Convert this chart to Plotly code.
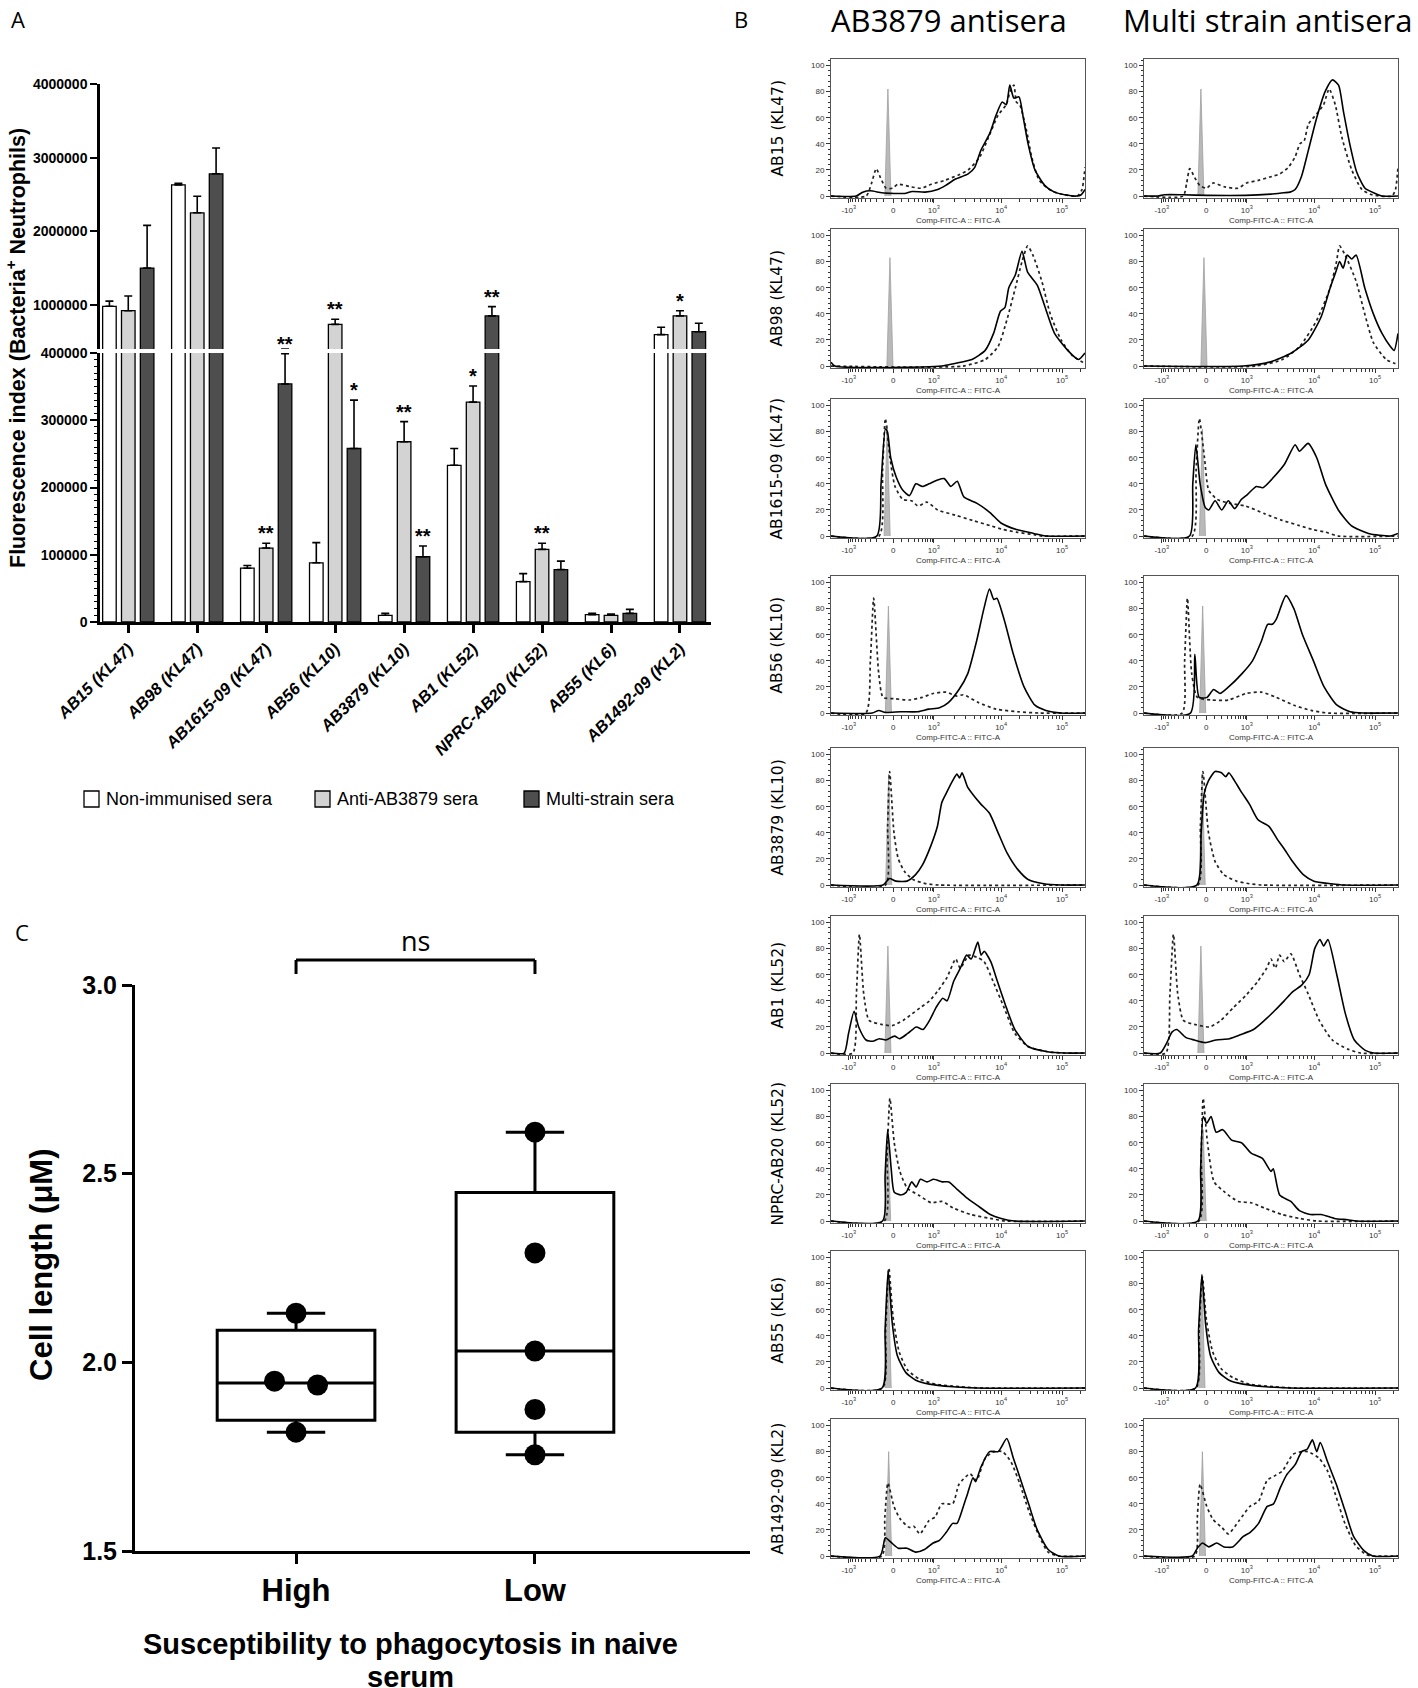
import numpy as np
import plotly.graph_objects as go

W, H = 1418, 1688
def fx(p): return p / W
def fy(p): return 1 - p / H

# ---------------- Panel A data ----------------
strains = ["AB15 (KL47)", "AB98 (KL47)", "AB1615-09 (KL47)", "AB56 (KL10)", "AB3879 (KL10)",
           "AB1 (KL52)", "NPRC-AB20 (KL52)", "AB55 (KL6)", "AB1492-09 (KL2)"]
series_names = ["Non-immunised sera", "Anti-AB3879 sera", "Multi-strain sera"]
non_immunised = [980000, 2630000, 80000, 88000, 10000, 233000, 60000, 11000, 595000]
non_immunised_err = [70000, 20000, 4000, 30000, 3000, 25000, 12000, 1800, 100000]
anti_ab3879 = [920000, 2250000, 110000, 735000, 268000, 327000, 108000, 10000, 850000]
anti_ab3879_err = [200000, 225000, 7000, 70000, 30000, 24000, 9000, 1700, 70000]
multi_strain = [1500000, 2780000, 354000, 258000, 97000, 850000, 78000, 12800, 635000]
multi_strain_err = [580000, 350000, 45000, 72000, 16000, 125000, 12500, 6000, 115000]
sig_non = ["", "", "", "", "", "", "", "", ""]
sig_anti = ["", "", "**", "**", "**", "*", "**", "", "*"]
sig_multi = ["", "", "**", "*", "**", "**", "", "", ""]
lower_ticks = [0, 100000, 200000, 300000, 400000]
upper_ticks = [1000000, 2000000, 3000000, 4000000]
BREAK = 400000

# ---------------- Panel C data ----------------
groups_c = ["High", "Low"]
high_vals = [2.13, 1.95, 1.94, 1.815]
low_vals = [2.61, 2.29, 2.03, 1.875, 1.755]
c_ticks = [1.5, 2.0, 2.5, 3.0]

# ---------------- Panel B data (x: display channel 0-100, y: % of max) ----------------
hist_tick_pos = [7, 24.5, 40.5, 67, 91]
hist_tick_text = ["-10<sup>3</sup>", "0", "10<sup>3</sup>", "10<sup>4</sup>", "10<sup>5</sup>"]
col_titles = ["AB3879 antisera", "Multi strain antisera"]

AB15_AB3879_solid = [(0,0),(9.9,0),(12.5,3),(15.5,4),(20,2.5),(25,2),(29,2),(32,3.5),(37,3),(42,5),(45,8),(49,13),(54,17),(56.6,22),(59,35),(62.5,48),(65,62),(67.4,72),(69,70),(70.4,85),(72,75),(74,76),(75.7,60),(77.6,40),(80.3,20),(84.2,8),(88,3),(92,1),(96.7,0),(98.5,1),(100,5)]
AB15_AB3879_dotted = [(0,0),(13.8,0),(16,10),(17.8,21),(19.5,14),(21.7,6),(24.3,6),(26.3,9),(31.6,7),(35.5,6),(39.5,9),(44.7,12),(50,16),(54,20),(58.6,30),(62,45),(65.8,62),(69,70),(70.5,80),(72,85),(73,72),(74.3,70),(77,50),(79,30),(82,12),(86.8,4),(92,1),(97,0),(98.8,5),(100,22)]
AB15_multi_solid = [(0,0),(5.5,0),(8,1),(15,1),(25,0.5),(40,0.5),(50,1.5),(55,2.5),(57.5,3),(59.5,5),(62,15),(64.7,35),(68,60),(71.3,80),(74.2,89),(76.6,85),(78.5,65),(81,40),(83.8,18),(87,6),(91,2),(93.7,0),(100,0)]
AB15_multi_dotted = [(0,0),(15.4,0),(16.8,10),(18,21),(20,14),(22,8),(24.6,6),(27.2,10),(31.8,7),(37,6),(40.4,10),(45,12),(50.3,15),(53.5,17),(56.8,22),(59.5,30),(61.4,40),(63,42),(64.7,55),(68,63),(70.7,70),(72.9,82),(75.3,70),(77.9,45),(81.8,20),(85.8,5),(89.7,1),(97.6,0),(99,5),(100,22)]
AB98_AB3879_solid = [(0,3),(1.5,0),(43.6,0),(48.7,2),(55.5,5),(60.7,12),(64,25),(66.7,42),(68.5,45),(70,60),(72.6,70),(75.2,88),(77.4,72),(81.2,62),(84.3,45),(88,25),(93.2,12),(97.4,5),(100,10)]
AB98_AB3879_dotted = [(0,0),(52,0),(60.7,5),(65.8,15),(69.2,35),(72.6,60),(75.2,80),(77.4,92),(79.5,85),(83,65),(86.3,40),(90.6,20),(95,8),(100,2)]
AB98_multi_solid = [(0,0),(39,0),(49.4,3),(58,10),(64.7,20),(69.8,38),(73.3,60),(75.5,72),(77,80),(78.4,75),(80,85),(81.8,82),(83.5,85),(86.9,60),(90.3,40),(93.7,25),(97,15),(98.5,12),(100,25)]
AB98_multi_dotted = [(0,0),(44,0),(54.5,5),(61.3,15),(68,35),(73.3,60),(75.8,80),(77,92),(79.2,85),(83.5,65),(86.9,40),(90.3,18),(95.4,5),(98.8,2),(100,2)]
AB1615_AB3879_solid = [(0,0),(18,0),(19.7,40),(21.4,82),(22.2,80),(23.5,60),(25.7,45),(28.3,35),(30.9,31),(33.4,40),(36,38),(38.6,40),(42,43),(44.6,44),(47.2,38),(49.7,42),(52.3,30),(57.5,25),(62.6,18),(66.9,10),(73,5),(79.8,2),(85,0),(100,0)]
AB1615_AB3879_dotted = [(0,0),(18.9,0),(20.3,50),(21.4,90),(23.2,60),(25.2,38),(28.3,28),(31.7,27),(34.3,23),(37.7,26),(42,20),(48.9,16),(55.7,12),(62.6,8),(67.8,5),(73,3),(80,1),(83,0),(100,0)]
AB1615_multi_solid = [(0,0),(17.9,0),(19.2,40),(20.4,70),(22.1,40),(24.1,22),(25.5,20),(28,27),(30.6,20),(33.2,27),(35.7,21),(38.3,28),(40.8,32),(44.2,38),(46.8,37),(51,45),(55.3,55),(59.5,70),(61.2,65),(64.6,71),(68,60),(71.4,40),(76.5,20),(81.6,8),(88.4,2),(97,0),(100,2)]
AB1615_multi_dotted = [(0,0),(19,0),(20.5,50),(21.8,90),(23.8,60),(25.5,35),(28.9,28),(34,25),(40,23),(47.6,17),(54.4,12),(61.2,8),(66.3,5),(71.4,3),(76.5,0),(100,0)]
AB56_AB3879_solid = [(0,0),(16.2,0),(18.8,2),(21.4,0.5),(27.4,1),(34.2,1),(38.5,3),(42.7,4),(46.2,8),(50.4,18),(53.8,30),(57.3,55),(60.2,80),(62.4,95),(64.1,87),(65.3,88),(68.4,70),(71.8,45),(76,20),(80.3,6),(84.6,2),(90.6,0),(100,0)]
AB56_AB3879_dotted = [(0,0),(13.7,0),(15.5,40),(16.8,88),(18.8,30),(20.5,12),(24.8,11),(30.8,10),(35.9,12),(40.2,15),(45.3,16),(49.6,13),(52.1,14),(58.1,8),(65,3),(73.5,1),(82,0),(100,0)]
AB56_multi_solid = [(0,0),(18.3,0),(20,45),(21.7,12),(24.8,12),(27.4,18),(29.9,15),(33.3,20),(38.5,30),(42.7,40),(46.2,55),(48.7,68),(50.5,68),(52.1,72),(55.9,90),(59,80),(62.4,60),(66.7,40),(70.9,20),(76,6),(81.2,1),(86.3,0),(100,0)]
AB56_multi_dotted = [(0,0),(15,0),(16,40),(17.1,88),(18.8,30),(21,12),(26.5,10),(33.3,10),(40.2,15),(46.2,16),(52.1,12),(59,6),(65.8,2),(72.6,0),(100,0)]
AB3879_AB3879_solid = [(0,0),(20.5,0),(23,5),(25.6,3),(29.9,3),(33.3,8),(35.9,15),(39.3,30),(41.9,45),(43.6,63),(45.3,70),(47.9,80),(49.6,85),(50.6,82),(51.6,86),(53.8,75),(56.4,68),(59,62),(62.4,55),(65.8,40),(69.2,25),(73.5,12),(77.8,4),(83.8,1),(90.6,0),(100,0)]
AB3879_AB3879_dotted = [(0,0),(21.4,0),(22.3,45),(23.1,87),(24.8,40),(26.5,20),(29.1,10),(32.5,4),(37.6,1),(42.7,0),(100,0)]
AB3879_multi_solid = [(0,0),(20.8,0),(22.5,40),(23.7,70),(25.4,80),(28,87),(30.5,86),(32.2,83),(33.4,86),(35.6,80),(38.1,72),(41.5,62),(44.9,50),(49.2,45),(52.5,35),(55.1,28),(58.5,18),(62.7,8),(66.9,3),(73.7,1),(78.8,0),(100,0)]
AB3879_multi_dotted = [(0,0),(21.2,0),(22.2,45),(23.2,87),(25.4,40),(28,18),(31.4,8),(36.4,3),(41.5,1),(46.6,0),(100,0)]
AB1_AB3879_solid = [(0,0),(5.2,0),(6.9,15),(9.1,32),(10.9,20),(13.8,10),(16.4,9),(19,11),(21.6,10),(25,13),(27,11),(30.2,15),(33.6,20),(36.2,18),(38.8,25),(41.4,35),(44,42),(45.7,40),(48.3,55),(50.9,65),(53.4,75),(55.2,72),(57.8,85),(59.1,75),(60.3,78),(62.9,70),(65.5,55),(69,35),(72.4,18),(77.6,5),(85.3,1),(92,0),(100,0)]
AB1_AB3879_dotted = [(0,0),(8.6,0),(10,45),(11.2,91),(12.9,45),(15,25),(19.8,22),(24.1,21),(28.4,25),(31.9,30),(35.3,35),(38.8,40),(42.2,48),(45.7,58),(49.1,72),(50.9,65),(54.3,75),(57.8,73),(60.3,70),(63.8,55),(68.1,35),(72.4,15),(77.6,5),(85.3,1),(92,0),(100,0)]
AB1_multi_solid = [(0,0),(6.4,0),(9,8),(11,16),(12.9,18),(16.4,12),(19.8,10),(24.1,8),(28.4,10),(33.6,11),(37.9,14),(43.1,18),(47.4,25),(51.7,33),(55.2,40),(58.6,47),(62.1,52),(65,60),(67.2,80),(69.3,87),(70.7,82),(72.4,87),(75.9,60),(79.3,30),(82.8,10),(87.1,2),(90.5,0),(100,0)]
AB1_multi_dotted = [(0,0),(8.6,0),(10.2,45),(11.6,91),(13.3,45),(15.5,25),(19.8,22),(25.9,20),(30.2,25),(35.3,35),(40.5,45),(44.8,55),(48.3,65),(50,72),(51.7,65),(53.4,75),(55.2,70),(57.8,76),(61.2,60),(64.7,45),(69,25),(74.1,10),(80.2,3),(85.3,0),(100,0)]
NPRC_AB3879_solid = [(0,0),(20.3,0),(21.3,35),(22.3,70),(23.7,40),(24.9,22),(27.5,20),(29.6,22),(31.8,30),(33.5,26),(35.2,32),(37.8,30),(40.4,32),(43.8,30),(46.4,30),(49.8,24),(53.3,18),(57.6,12),(62.7,5),(67,2),(72.2,0),(100,0)]
NPRC_AB3879_dotted = [(0,0),(21,0),(22.1,50),(23.2,94),(24.9,60),(27.1,38),(30.1,25),(34.4,20),(39.5,14),(43.8,15),(48.1,10),(55,5),(62.7,2),(68.7,0),(100,0)]
NPRC_multi_solid = [(0,0),(21.2,0),(22.3,40),(23.3,80),(24.7,75),(26.4,80),(28.4,68),(31,70),(34.5,62),(38.4,60),(42.2,52),(46.6,48),(50,38),(50.9,40),(53.4,20),(57.8,15),(61.2,8),(65.5,5),(69.8,5),(75,2),(80.2,1),(83.6,0),(100,0)]
NPRC_multi_dotted = [(0,0),(21.6,0),(22.5,50),(23.3,94),(25,60),(27.6,30),(31.9,22),(37.1,15),(42.2,14),(47.4,10),(54.3,5),(61.2,2),(68.1,0),(100,0)]
AB55_AB3879_solid = [(0,0),(20.1,0),(21.3,45),(22.5,90),(24.1,50),(26.1,25),(29.4,12),(33.4,6),(38.7,3),(48,1),(57.2,0),(100,0)]
AB55_AB3879_dotted = [(0,0),(20.3,0),(21.5,45),(22.8,92),(24.4,55),(26.8,28),(30.1,14),(34.7,7),(41.3,3),(50.6,1),(59.9,0),(100,0)]
AB55_multi_solid = [(0,0),(20.3,0),(21.5,45),(22.8,87),(24.3,48),(26.3,24),(29.5,12),(33.5,6),(39,3),(48,1),(57,0),(100,0)]
AB55_multi_dotted = [(0,0),(20.5,0),(21.7,45),(23,85),(24.6,52),(27,28),(30.3,15),(35,8),(41.5,3),(51,1),(60,0),(100,0)]
AB1492_AB3879_solid = [(0,0),(19.3,0),(21.4,14),(23.9,10),(26.5,6),(29.9,6),(33.3,3),(36.8,5),(40.2,10),(42.7,12),(45.3,18),(47.9,25),(49.6,25),(52.1,38),(53.8,48),(55.9,60),(56.9,57),(59,68),(62.4,80),(65.8,80),(69.2,90),(71.8,75),(74.4,60),(77.8,40),(81.2,20),(85.5,5),(89.7,0),(100,0)]
AB1492_AB3879_dotted = [(0,0),(20,0),(21.2,30),(22.4,56),(24.8,38),(27.4,28),(30.8,22),(32.5,23),(35,17),(38.5,27),(41,30),(43.6,40),(47.9,40),(50.4,55),(54.7,63),(57.3,58),(60.7,75),(64.1,80),(67.5,80),(70.9,72),(74.4,55),(77.8,35),(82,15),(85.5,3),(89.7,0),(100,0)]
AB1492_multi_solid = [(0,0),(19,0),(21,6),(23,10),(25.5,7),(28.6,10),(31.5,7),(34.9,7),(39.1,15),(41.7,18),(45.1,25),(48.5,38),(51,40),(53.6,52),(56.1,62),(59.5,70),(62.1,80),(64.3,82),(66.3,89),(68,80),(69.4,87),(72.3,72),(75.7,55),(79.1,35),(82.5,15),(86.7,4),(90.1,0),(100,0)]
AB1492_multi_dotted = [(0,0),(20,0),(21,30),(22.1,55),(24.7,38),(27.2,28),(30.6,22),(33.2,17),(37.4,27),(41.7,38),(45.1,42),(48.5,58),(51.9,62),(54.4,65),(58.7,78),(62.1,80),(64.6,80),(68.9,75),(72.3,65),(75.7,45),(79.1,25),(83.3,8),(87.6,1),(90.1,0),(100,0)]

# unstained control spike: position and height per panel (row-major, left/right)
control_pos = [22.4, 22.4, 23.2, 23.6, 22.1, 23.0, 22.6, 23.1, 22.7, 22.9, 22.4, 22.4, 22.3, 23.3, 22.5, 22.8, 22.7, 23.0]
control_height = [82, 82, 83, 83, 85, 82, 82, 82, 85, 85, 82, 82, 70, 70, 88, 86, 80, 80]

hist_panels = [
    (AB15_AB3879_solid, AB15_AB3879_dotted, AB15_multi_solid, AB15_multi_dotted),
    (AB98_AB3879_solid, AB98_AB3879_dotted, AB98_multi_solid, AB98_multi_dotted),
    (AB1615_AB3879_solid, AB1615_AB3879_dotted, AB1615_multi_solid, AB1615_multi_dotted),
    (AB56_AB3879_solid, AB56_AB3879_dotted, AB56_multi_solid, AB56_multi_dotted),
    (AB3879_AB3879_solid, AB3879_AB3879_dotted, AB3879_multi_solid, AB3879_multi_dotted),
    (AB1_AB3879_solid, AB1_AB3879_dotted, AB1_multi_solid, AB1_multi_dotted),
    (NPRC_AB3879_solid, NPRC_AB3879_dotted, NPRC_multi_solid, NPRC_multi_dotted),
    (AB55_AB3879_solid, AB55_AB3879_dotted, AB55_multi_solid, AB55_multi_dotted),
    (AB1492_AB3879_solid, AB1492_AB3879_dotted, AB1492_multi_solid, AB1492_multi_dotted),
]

# ====================================================================
fig = go.Figure()
layout = {}
annotations = []
shapes = []

def note(x, y, text, size, family="Liberation Sans", weight="normal", angle=0, xanchor="center",
         yanchor="middle", xref="paper", yref="paper", color="black"):
    annotations.append(dict(x=x, y=y, xref=xref, yref=yref, showarrow=False, text=text,
                            textangle=angle, xanchor=xanchor, yanchor=yanchor,
                            font=dict(family=family, size=size, color=color, weight=weight)))

BOLD = "Liberation Sans"
# ---------------- Panel A ----------------
bar_colors = ["#ffffff", "#d3d3d3", "#4e4e4e"]
vals = [non_immunised, anti_ab3879, multi_strain]
errs = [non_immunised_err, anti_ab3879_err, multi_strain_err]
sigs = [sig_non, sig_anti, sig_multi]
xs = list(range(len(strains)))
for yax in ["y", "y2"]:
    for i in range(3):
        fig.add_trace(go.Bar(
            x=xs, y=vals[i], xaxis="x", yaxis=yax, name=series_names[i], showlegend=False,
            marker=dict(color=bar_colors[i], line=dict(color="black", width=1.3)),
            error_y=dict(type="data", symmetric=False, array=errs[i], arrayminus=[0] * len(xs),
                         color="black", thickness=1.6, width=4)))

BARGAP = 0.18
slot = (1 - BARGAP) / 3
for i in range(3):
    for k in xs:
        if sigs[i][k]:
            top = vals[i][k] + errs[i][k]
            annotations.append(dict(x=k + (i - 1) * slot, y=top, xref="x",
                                    yref="y2" if top > BREAK else "y", xanchor="center",
                                    text=sigs[i][k], showarrow=False, yanchor="bottom", yshift=-3,
                                    font=dict(family=BOLD, size=20, color="black", weight="bold")))

axA_common = dict(showline=True, linecolor="black", linewidth=2.5, ticks="outside", ticklen=7,
                  tickwidth=2, tickcolor="black", showgrid=False, zeroline=False, automargin=False,
                  tickfont=dict(family=BOLD, size=14, color="black", weight="bold"))
layout["xaxis"] = dict(domain=[fx(100), fx(711)], range=[-0.41, 8.45], anchor="y", automargin=False,
                       tickvals=xs, ticktext=strains, tickangle=-45,
                       showline=True, linecolor="black", linewidth=2.5, ticks="outside", ticklen=8,
                       tickwidth=2.5, tickcolor="black", showgrid=False, zeroline=False,
                       tickfont=dict(family=BOLD, size=16.5, color="black", weight="bold", style="italic"))
layout["yaxis"] = dict(domain=[fy(622), fy(353)], range=[0, BREAK], anchor="x",
                       tickvals=lower_ticks, ticktext=[str(v) for v in lower_ticks],
                       minor=dict(dtick=10000, ticklen=3, tickwidth=1.3, tickcolor="black", ticks="outside"),
                       **axA_common)
layout["yaxis2"] = dict(domain=[fy(349), fy(84)], range=[BREAK, 4000000], anchor="x",
                        tickvals=upper_ticks, ticktext=[str(v) for v in upper_ticks], **axA_common)

note(fx(16), fy(348), "Fluorescence index (Bacteria<sup>+</sup> Neutrophils)", 21.5, weight="bold", angle=-90)
# legend
leg_x = [84, 315, 524]
for i in range(3):
    shapes.append(dict(type="rect", xref="paper", yref="paper", x0=fx(leg_x[i]), x1=fx(leg_x[i] + 15),
                       y0=fy(807), y1=fy(791), fillcolor=bar_colors[i], line=dict(color="black", width=1.3)))
    note(fx(leg_x[i] + 20), fy(799), series_names[i], 18, xanchor="left")

# ---------------- Panel C ----------------
def dodge(values, thresh=0.05, step=0.18):
    order = sorted(range(len(values)), key=lambda k: -values[k])
    grp = []
    for k in order:
        if grp and abs(values[k] - values[grp[-1][-1]]) < thresh:
            grp[-1].append(k)
        else:
            grp.append([k])
    off = [0.0] * len(values)
    for g in grp:
        for j, k in enumerate(g):
            off[k] = (j - (len(g) - 1) / 2) * step
    return off

for gi, data in enumerate([high_vals, low_vals]):
    q1, med, q3 = np.percentile(data, [25, 50, 75], method="weibull")
    fig.add_trace(go.Box(x=[gi], q1=[q1], median=[med], q3=[q3], lowerfence=[min(data)],
                         upperfence=[max(data)], width=0.66, whiskerwidth=0.37,
                         line=dict(color="black", width=3), fillcolor="white",
                         xaxis="x2", yaxis="y3", showlegend=False, boxpoints=False))
    off = dodge(data)
    fig.add_trace(go.Scatter(x=[gi + o for o in off], y=data, mode="markers", xaxis="x2", yaxis="y3",
                             marker=dict(size=21, color="black"), showlegend=False))

layout["xaxis2"] = dict(domain=[fx(135), fx(750)], range=[-0.674, 1.9], anchor="y3", automargin=False,
                        tickvals=[0, 1], ticktext=groups_c, showline=True, linecolor="black", linewidth=3,
                        ticks="outside", ticklen=10, tickwidth=3, tickcolor="black", showgrid=False,
                        zeroline=False, tickfont=dict(family=BOLD, size=31, color="black", weight="bold"))
layout["yaxis3"] = dict(domain=[fy(1551), fy(985)], range=[1.5, 3.0], anchor="x2", automargin=False,
                        tickvals=c_ticks, ticktext=["%.1f" % v for v in c_ticks], showline=True,
                        linecolor="black", linewidth=3, ticks="outside", ticklen=10, tickwidth=3,
                        tickcolor="black", showgrid=False, zeroline=False,
                        tickfont=dict(family=BOLD, size=25, color="black", weight="bold"))
note(fx(41), fy(1265), "Cell length (\u03bcM)", 31, weight="bold", angle=-90)
note(fx(410), fy(1644), "Susceptibility to phagocytosis in naive", 29, weight="bold")
note(fx(410), fy(1677), "serum", 29, weight="bold")
# ns bracket
for seg in [((0, 960), (1, 960)), ((0, 960), (0, 974)), ((1, 960), (1, 974))]:
    shapes.append(dict(type="line", xref="x2", yref="paper", x0=seg[0][0], x1=seg[1][0],
                       y0=fy(seg[0][1]), y1=fy(seg[1][1]), line=dict(color="black", width=3)))
note(0.5, fy(940), "ns", 27, family="Open Sans", xref="x2")

# ---------------- Panel B ----------------
col_x = [(831, 1085), (1144, 1398)]
row_tops = [59, 229, 399, 576, 748, 916, 1084, 1251, 1419]
ROW_H = 139

def minor_positions():
    p0, p3, p4, p5 = 24.5, 40.5, 67, 91
    out = []
    for v in range(100, 1000, 100):
        f = np.arcsinh(v / 200) / np.arcsinh(5)
        out.append(p0 + (p3 - p0) * f)
        out.append(p0 - (p0 - 7) * f)
    for m in range(2, 10):
        out.append(p3 + np.log10(m) * (p4 - p3))
        out.append(p4 + np.log10(m) * (p5 - p4))
    out.append(p5 + np.log10(2) * (p5 - p4))
    return sorted(out)
minors = minor_positions()

ax_i = 3
for r, panel in enumerate(hist_panels):
    for c in range(2):
        solid, dotted = panel[2 * c], panel[2 * c + 1]
        xa, ya = "x%d" % ax_i, "y%d" % (ax_i + 1)
        pi = 2 * r + c
        cp, ch = control_pos[pi], control_height[pi]
        fig.add_trace(go.Scatter(x=[cp - 1.2, cp, cp + 1.2], y=[0, ch, 0], mode="lines", fill="tozeroy",
                                 fillcolor="#b9b9b9", line=dict(color="#a0a0a0", width=0.8),
                                 xaxis=xa, yaxis=ya, showlegend=False))
        fig.add_trace(go.Scatter(x=[p[0] for p in dotted], y=[p[1] for p in dotted], mode="lines",
                                 line=dict(color="#222222", width=1.7, dash="dot", shape="spline", smoothing=0.6),
                                 xaxis=xa, yaxis=ya, showlegend=False))
        fig.add_trace(go.Scatter(x=[p[0] for p in solid], y=[p[1] for p in solid], mode="lines",
                                 line=dict(color="black", width=1.6, shape="spline", smoothing=0.6),
                                 xaxis=xa, yaxis=ya, showlegend=False))
        x0, x1 = col_x[c]
        top = row_tops[r]
        layout["xaxis%d" % ax_i] = dict(
            domain=[fx(x0), fx(x1)], range=[0, 100], anchor=ya, showline=True, mirror=True,
            linecolor="#555555", linewidth=1, showgrid=False, zeroline=False, automargin=False,
            tickvals=hist_tick_pos, ticktext=hist_tick_text, ticks="outside", ticklen=4, tickwidth=1,
            tickcolor="#333", tickfont=dict(family="Liberation Sans", size=8, color="#333"),
            minor=dict(tickmode="array", tickvals=minors, ticks="outside", ticklen=2.5, tickcolor="#333", tickwidth=1),
            title=dict(text="Comp-FITC-A :: FITC-A", standoff=3,
                       font=dict(family="Liberation Sans", size=8, color="#333")))
        layout["yaxis%d" % (ax_i + 1)] = dict(
            domain=[fy(top + ROW_H), fy(top)], range=[-1.5, 105], anchor=xa, showline=True, mirror=True,
            linecolor="#555555", linewidth=1, showgrid=False, zeroline=False, automargin=False,
            tickvals=[0, 20, 40, 60, 80, 100], ticks="outside", ticklen=4, tickwidth=1, tickcolor="#333",
            tickfont=dict(family="Liberation Sans", size=8, color="#333"),
            minor=dict(dtick=4, ticks="outside", ticklen=2.5, tickcolor="#333", tickwidth=1))
        ax_i += 1
    note(fx(777), fy(row_tops[r] + ROW_H / 2), strains[r], 15.5, family="DejaVu Sans", angle=-90)

for c, cx in enumerate([949, 1267]):
    note(fx(cx), fy(20), col_titles[c], 31, family="Open Sans")

# panel letters
for letter, (lx, ly) in {"A": (9, 19), "B": (732, 19), "C": (13, 932)}.items():
    note(fx(lx), fy(ly), letter, 22, family="Open Sans", xanchor="left")

fig.update_layout(width=W, height=H, margin=dict(l=0, r=0, t=0, b=0, pad=0, autoexpand=False),
                  paper_bgcolor="white", plot_bgcolor="white", barmode="group", bargap=BARGAP,
                  bargroupgap=0.28, annotations=annotations, shapes=shapes, **layout)
fig.write_html("out.html", config={"displayModeBar": False},
               post_script="document.body.style.margin='0px';document.body.style.overflow='hidden';")
